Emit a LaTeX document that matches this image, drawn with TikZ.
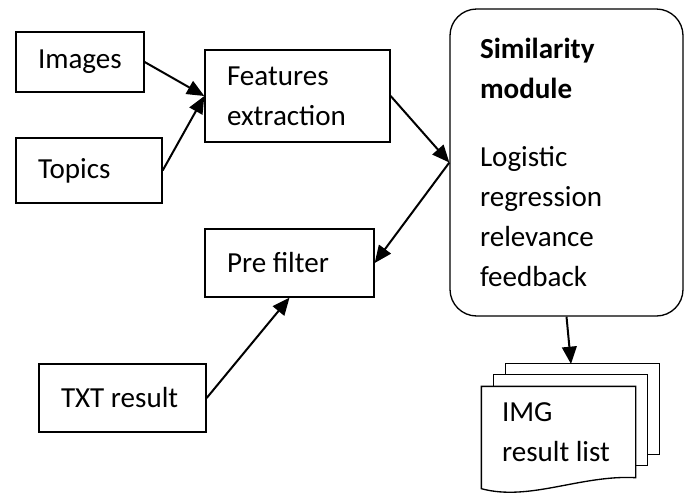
\documentclass[tikz,border=0pt]{standalone}
\usepackage{fontspec}
\setmainfont{Carlito}
\usetikzlibrary{arrows.meta,backgrounds}

\begin{document}
\begin{tikzpicture}[x=0.75pt,y=-0.75pt,
		box/.style={draw,line width=1pt,align=flush left,inner xsep=16.5pt,inner ysep=0pt,font=\fontsize{21.8}{30}\selectfont},
		arr/.style={line width=1.5pt,-{Triangle[length=13pt,width=11pt]}},
		page/.style={draw,line width=1pt,fill=white}]
		\useasboundingbox (0,0) rectangle (691,494);
		
		% inputs
		\node[box,text width=63pt,minimum height=45pt] (images) at (80,62) {Images};
		\node[box,text width=76.5pt,minimum height=48.75pt] (topics) at (89,170.5) {Topics};
		\node[box,text width=105.75pt,minimum height=69pt] (features) at (297.5,96) {Features\\extraction};
		\node[box,text width=93.75pt,minimum height=51pt] (prefilter) at (289.5,263) {Pre filter};
		\node[box,text width=92.25pt,minimum height=51pt] (txt) at (122.5,398) {TXT result};
		
		% similarity module
		\node[box,rounded corners=20pt,inner xsep=22.5pt,text width=129.75pt,minimum height=230.25pt] (sim) at (566.5,162.5)
			{\textbf{Similarity}\\\textbf{module}\\[21pt]Logistic\\regression\\relevance\\feedback};
		
		% result list (stack of pages)
		\node[box,draw=none,inner xsep=15pt,text width=84.75pt,minimum height=67.5pt] (img) at (558.5,432) {IMG\\result list};
		\begin{scope}[on background layer]
			\draw[page] ([shift={(24,-23)}]img.north west) rectangle ([shift={(24,-23)}]img.south east);
			\draw[page] ([shift={(12,-12)}]img.north west) rectangle ([shift={(12,-12)}]img.south east);
			\draw[page] (img.north west) -- (img.north east) -- (img.south east)
				.. controls +(-55,-3) and +(48,13) .. ([yshift=-8.25pt]img.south west) -- cycle;
		\end{scope}
		\coordinate (listtop) at (571,364);
		
		\draw[arr] (images.east) -- (features.west);
		\draw[arr] (topics.east) -- (features.west);
		\draw[arr] (features.east) -- (sim.west);
		\draw[arr] (sim.west) -- (prefilter.east);
		\draw[arr] (txt.east) -- (prefilter.south);
		\draw[arr] (sim.south) -- (listtop);
		
\end{tikzpicture}
\end{document}
